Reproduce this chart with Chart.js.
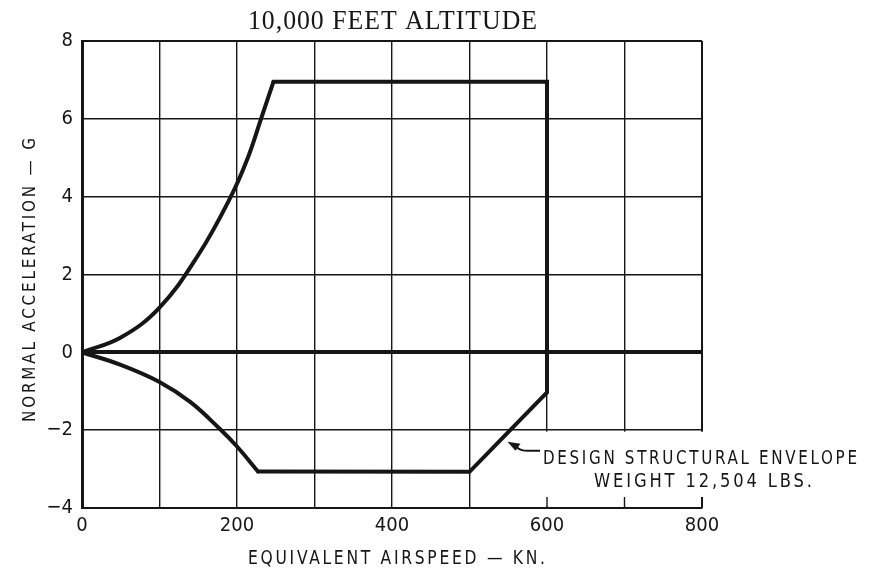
<!DOCTYPE html>
<html>
<head>
<meta charset="utf-8">
<script src="https://cdn.jsdelivr.net/npm/chart.js@4/dist/chart.umd.min.js"></script>
<style>
  html, body { margin: 0; padding: 0; background: #fff; }
  #wrap { width: 876px; height: 571px; }
</style>
</head>
<body>
<div id="wrap"><canvas id="envelopeCanvas" width="876" height="571"></canvas></div>
<script>
// values (speed in knots EAS, load factor in g)
var upperSpeed = [0, 50, 100, 150, 192, 214, 231, 247];
var upperG     = [0, 0.38, 1.15, 2.5, 4, 5, 6, 6.95];
var lowerSpeed = [0, 50, 100, 140, 178, 200, 227];
var lowerG     = [0, -0.32, -0.76, -1.28, -1.97, -2.42, -3.06];
var edgeSpeed  = [247, 600, 600, 500, 227];
var edgeG      = [6.95, 6.95, -1.03, -3.07, -3.06];
var xTicks = [0, 200, 400, 600, 800];
var yTicks = [-4, -2, 0, 2, 4, 6, 8];
var arrowAt = [549, -2.3];   // where the label arrow touches the envelope

var ink = "#161616";
var tickFont = "'DejaVu Sans Condensed', 'Liberation Sans Narrow', 'DejaVu Sans', sans-serif";

function pts(xs, ys) {
    return xs.map(function(v, i) { return {x: v, y: ys[i]}; });
}

// draws text squeezed/stretched to a given width, left edge at x0
function fitText(ctx, str, x0, baseY, width, font, spacing) {
    ctx.save();
    ctx.font = font;
    ctx.letterSpacing = spacing + "px";
    ctx.textAlign = "left";
    ctx.textBaseline = "alphabetic";
    var w = ctx.measureText(str).width - spacing;
    ctx.translate(x0, baseY);
    ctx.scale(width / w, 1);
    ctx.fillText(str, 0, 0);
    ctx.restore();
}

const bgPlugin = {
    id: 'white_bg',
    beforeDraw: (chart) => {
        const {ctx} = chart;
        ctx.save();
        ctx.globalCompositeOperation = 'destination-over';
        ctx.fillStyle = 'white';
        ctx.fillRect(0, 0, chart.width, chart.height);
        ctx.restore();
    }
};

// the grid is left open under the -2 line right of 500 kn, only short ticks at the bottom
const gridCut = {
    id: 'grid_cut',
    beforeDatasetsDraw: (chart) => {
        const {ctx, chartArea} = chart;
        const xs = chart.scales.x, ys = chart.scales.y;
        var left = xs.getPixelForValue(500) + 1.5;
        var top = ys.getPixelForValue(-2) + 1.5;
        ctx.save();
        ctx.fillStyle = "#fff";
        ctx.fillRect(left, top, chartArea.right + 3 - left, chartArea.bottom - 1.5 - top);
        ctx.strokeStyle = ink;
        [600, 700, 800].forEach(function(v) {
            var px = xs.getPixelForValue(v);
            ctx.lineWidth = v === 800 ? 2 : 1.4;
            ctx.beginPath();
            ctx.moveTo(px, chartArea.bottom);
            ctx.lineTo(px, chartArea.bottom - 11);
            ctx.stroke();
        });
        ctx.restore();
    }
};

const labels = {
    id: 'labels',
    afterDraw: (chart) => {
        const {ctx} = chart;
        const xs = chart.scales.x, ys = chart.scales.y;
        ctx.fillStyle = ink;
        ctx.strokeStyle = ink;

        fitText(ctx, "10,000 FEET ALTITUDE", 248, 29, 289, "27px 'Liberation Serif', 'DejaVu Serif', serif", 1);
        fitText(ctx, "EQUIVALENT AIRSPEED — KN.", 248, 564, 297, "19px " + tickFont, 3);

        ctx.save();
        ctx.translate(35, 422);
        ctx.rotate(-Math.PI / 2);
        fitText(ctx, "NORMAL ACCELERATION — G", 0, 0, 284, "18px " + tickFont, 3);
        ctx.restore();

        fitText(ctx, "DESIGN STRUCTURAL ENVELOPE", 543, 464, 314, "19px " + tickFont, 3);
        fitText(ctx, "WEIGHT 12,504 LBS.", 594, 487, 218, "19px " + tickFont, 3);

        // leader arrow
        var tx = xs.getPixelForValue(arrowAt[0]), ty = ys.getPixelForValue(arrowAt[1]);
        ctx.save();
        ctx.lineWidth = 2;
        ctx.beginPath();
        ctx.moveTo(540, ty + 9);
        ctx.lineTo(528, ty + 9);
        ctx.quadraticCurveTo(520, ty + 9, tx + 9, ty + 5);
        ctx.stroke();
        ctx.beginPath();
        ctx.moveTo(tx, ty);
        ctx.lineTo(tx + 13, ty + 2);
        ctx.lineTo(tx + 8, ty + 9);
        ctx.closePath();
        ctx.fill();
        ctx.restore();
    }
};

var lineStyle = {
    showLine: true,
    pointRadius: 0,
    borderColor: ink,
    borderWidth: 4,
    borderJoinStyle: 'miter',
    borderCapStyle: 'round',
    fill: false
};

new Chart(document.getElementById("envelopeCanvas"), {
    type: 'scatter',
    plugins: [bgPlugin, gridCut, labels],
    data: {
        datasets: [
            Object.assign({data: pts(upperSpeed, upperG), tension: 0.4}, lineStyle),
            Object.assign({data: pts(lowerSpeed, lowerG), tension: 0.4}, lineStyle),
            Object.assign({data: pts(edgeSpeed, edgeG), tension: 0}, lineStyle)
        ]
    },
    options: {
        responsive: false,
        maintainAspectRatio: false,
        animation: false,
        layout: { padding: { top: 41, right: 174, left: 0, bottom: 0 } },
        plugins: {
            legend: { display: false },
            tooltip: { enabled: false },
            title: { display: false }
        },
        scales: {
            x: {
                type: 'linear',
                min: 0, max: 800,
                afterFit: function(s) { s.height = 63; },
                afterBuildTicks: function(s) {
                    var t = [];
                    for (var v = 0; v <= 800; v += 100) t.push({value: v});
                    s.ticks = t;
                },
                ticks: {
                    autoSkip: false,
                    maxRotation: 0,
                    padding: 6,
                    color: ink,
                    font: { family: tickFont, size: 20 },
                    callback: function(v) { return xTicks.indexOf(v) >= 0 ? String(v) : ''; }
                },
                grid: {
                    drawTicks: false,
                    color: ink,
                    lineWidth: function(c) { return c.tick && c.tick.value === 800 ? 2 : 1.4; }
                },
                border: { display: true, color: ink, width: 2 }
            },
            y: {
                type: 'linear',
                min: -4, max: 8,
                afterFit: function(s) { s.width = 82; },
                afterBuildTicks: function(s) {
                    s.ticks = yTicks.map(function(v) { return {value: v}; });
                },
                ticks: {
                    padding: 9,
                    color: ink,
                    font: { family: tickFont, size: 20 },
                    callback: function(v) { return v < 0 ? '−' + Math.abs(v) : String(v); }
                },
                grid: {
                    drawTicks: false,
                    color: ink,
                    lineWidth: function(c) {
                        if (!c.tick) return 1.4;
                        if (c.tick.value === 0) return 4;
                        if (c.tick.value === 8) return 2;
                        return 1.4;
                    }
                },
                border: { display: true, color: ink, width: 3 }
            }
        }
    }
});
</script>
</body>
</html>
